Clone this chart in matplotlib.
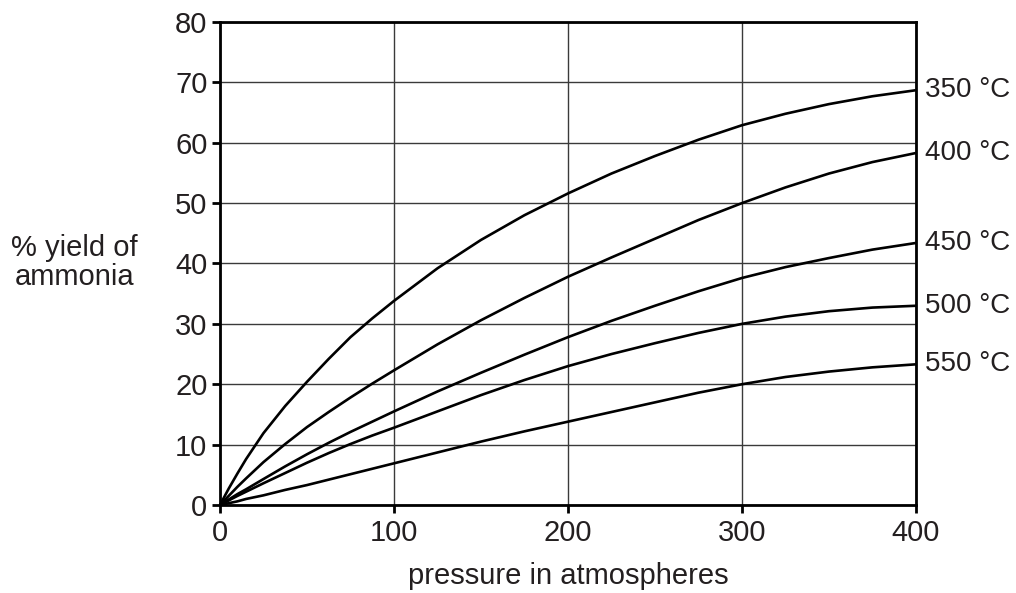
import matplotlib
matplotlib.use("Agg")
import matplotlib.pyplot as plt

plt.rcParams["font.family"] = ["Liberation Sans", "DejaVu Sans"]

pressure = [0, 5, 10, 15, 25, 37.5, 50, 62.5, 75, 87.5, 100, 125, 150, 175, 200,
            225, 250, 275, 300, 325, 350, 375, 400]

# % yield of ammonia for each temperature
yield_350 = [0, 2.7, 5.2, 7.6, 11.9, 16.4, 20.4, 24.2, 27.8, 30.9, 33.8, 39.2, 43.9, 48.0, 51.6,
             54.9, 57.8, 60.5, 62.9, 64.8, 66.4, 67.7, 68.7]
yield_400 = [0, 1.5, 3.0, 4.4, 7.1, 10.1, 12.9, 15.4, 17.8, 20.1, 22.3, 26.6, 30.6, 34.3, 37.8,
             41.0, 44.1, 47.2, 50.0, 52.6, 54.9, 56.8, 58.3]
yield_450 = [0, 0.9, 1.8, 2.6, 4.3, 6.4, 8.4, 10.3, 12.1, 13.8, 15.5, 18.8, 21.9, 24.9, 27.8,
             30.5, 33.0, 35.4, 37.6, 39.4, 40.9, 42.3, 43.4]
yield_500 = [0, 0.75, 1.5, 2.2, 3.6, 5.3, 7.0, 8.6, 10.1, 11.5, 12.8, 15.5, 18.2, 20.7, 23.0,
             25.0, 26.8, 28.5, 30.0, 31.2, 32.1, 32.7, 33.0]
yield_550 = [0, 0.3, 0.6, 1.0, 1.6, 2.5, 3.3, 4.2, 5.1, 6.0, 6.9, 8.7, 10.5, 12.2, 13.8,
             15.4, 17.0, 18.6, 20.0, 21.2, 22.1, 22.8, 23.3]

series = [
    ("350 °C", yield_350),
    ("400 °C", yield_400),
    ("450 °C", yield_450),
    ("500 °C", yield_500),
    ("550 °C", yield_550),
]

text_color = "#231f20"

fig = plt.figure(figsize=(10.16, 5.93), dpi=100)
ax = fig.add_axes([0.2165, 0.1484, 0.685, 0.8145])

# grid
ax.set_axisbelow(True)
ax.grid(True, color="#3a3a3a", linewidth=1.0)

for label, ys in series:
    ax.plot(pressure, ys, color="black", linewidth=1.9, solid_capstyle="butt", clip_on=False)
    ax.annotate(label, xy=(pressure[-1], ys[-1]), xytext=(6.5, 0), textcoords="offset points",
                ha="left", va="center", fontsize=20, color=text_color)

ax.set_xlim(0, 400)
ax.set_ylim(0, 80)
ax.set_xticks([0, 100, 200, 300, 400])
ax.set_yticks(range(0, 81, 10))

for side in ["left", "bottom", "right", "top"]:
    ax.spines[side].set_linewidth(2.0)
    ax.spines[side].set_color("black")

ax.tick_params(axis="both", direction="out", length=6, width=2.0, color="black",
               labelsize=21, labelcolor=text_color)
ax.tick_params(axis="x", pad=4)
ax.tick_params(axis="y", pad=3)

ax.set_xlabel("pressure in atmospheres", fontsize=21, color=text_color, labelpad=11)

fig.text(0.073, 0.558, "% yield of\nammonia", ha="center", va="center", fontsize=21,
         color=text_color, multialignment="center", linespacing=1.05)

fig.savefig("out.png", dpi=100, facecolor="white")
